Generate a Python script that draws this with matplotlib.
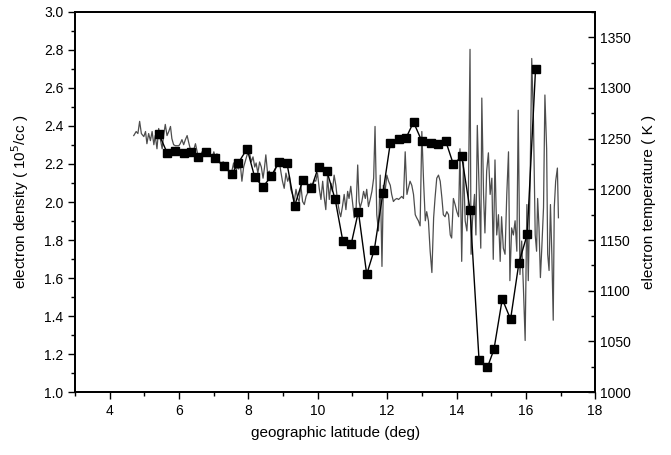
import matplotlib.pyplot as plt
from matplotlib.ticker import MultipleLocator

plt.rcParams['font.family'] = ['Liberation Sans', 'DejaVu Sans']

# electron density (squares), 10^5/cc
lat_ne = [5.41, 5.65, 5.89, 6.13, 6.35, 6.54, 6.78, 7.02, 7.28, 7.52, 7.71,
          7.96, 8.18, 8.42, 8.66, 8.87, 9.11, 9.33, 9.57, 9.81, 10.02, 10.26,
          10.50, 10.72, 10.96, 11.17, 11.41, 11.63, 11.88, 12.09, 12.33, 12.54,
          12.76, 13.00, 13.26, 13.48, 13.69, 13.91, 14.15, 14.39, 14.65, 14.89,
          15.08, 15.32, 15.56, 15.80, 16.04, 16.28]
ne = [2.36, 2.26, 2.27, 2.26, 2.265, 2.235, 2.265, 2.23, 2.19, 2.146, 2.207,
      2.28, 2.13, 2.08, 2.137, 2.209, 2.204, 1.98, 2.116, 2.072, 2.186, 2.163,
      2.014, 1.796, 1.777, 1.95, 1.62, 1.75, 2.05, 2.31, 2.33, 2.335,
      2.42, 2.32, 2.31, 2.305, 2.32, 2.198, 2.24, 1.96, 1.17, 1.13,
      1.225, 1.49, 1.384, 1.68, 1.83, 2.70]

# electron temperature (thin line), K
lat_te = [4.69, 4.76, 4.81, 4.86, 4.91, 4.98, 5.03, 5.07, 5.12, 5.17, 5.22, 5.27,
          5.31, 5.36, 5.41, 5.46, 5.51, 5.55, 5.60, 5.65, 5.70, 5.75, 5.79, 5.84,
          5.89, 5.99, 6.03, 6.08, 6.13, 6.18, 6.23, 6.27, 6.32, 6.37, 6.42, 6.47,
          6.52, 6.56, 6.61, 6.66, 6.76, 6.85, 6.95, 7.00, 7.04, 7.09, 7.14, 7.19,
          7.28, 7.33, 7.38, 7.43, 7.48, 7.52, 7.57, 7.62, 7.67, 7.72, 7.76, 7.81,
          7.86, 7.96, 8.03, 8.08, 8.13, 8.18, 8.22, 8.27, 8.32, 8.37, 8.42, 8.46,
          8.50, 8.55, 8.60, 8.65, 8.70, 8.74, 8.79, 8.84, 8.89, 8.94, 8.98, 9.03,
          9.08, 9.13, 9.18, 9.22, 9.27, 9.32, 9.37, 9.42, 9.46, 9.51, 9.56, 9.61,
          9.66, 9.70, 9.75, 9.80, 9.85, 9.90, 9.94, 9.99, 10.04, 10.09, 10.14,
          10.18, 10.23, 10.28, 10.33, 10.38, 10.42, 10.47, 10.52, 10.57, 10.62,
          10.66, 10.71, 10.76, 10.81, 10.86, 10.90, 10.95, 11.00, 11.05, 11.10,
          11.15, 11.19, 11.22, 11.27, 11.32, 11.37, 11.41, 11.46, 11.51, 11.56,
          11.61, 11.65, 11.70, 11.75, 11.80, 11.85, 11.89, 11.94, 11.99, 12.04,
          12.09, 12.13, 12.18, 12.23, 12.28, 12.33, 12.42, 12.47, 12.52, 12.57,
          12.61, 12.66, 12.71, 12.76, 12.81, 12.85, 12.90, 12.95, 13.00, 13.05,
          13.10, 13.14, 13.19, 13.24, 13.29, 13.34, 13.38, 13.43, 13.48, 13.53,
          13.58, 13.62, 13.67, 13.72, 13.77, 13.82, 13.86, 13.91, 13.96, 14.01,
          14.06, 14.10, 14.15, 14.20, 14.25, 14.30, 14.34, 14.39, 14.42, 14.46,
          14.52, 14.56, 14.60, 14.65, 14.70, 14.73, 14.78, 14.82, 14.87, 14.92,
          14.97, 15.02, 15.06, 15.11, 15.16, 15.21, 15.26, 15.30, 15.35, 15.40,
          15.45, 15.50, 15.54, 15.59, 15.64, 15.69, 15.74, 15.78, 15.83, 15.88,
          15.93, 15.98, 16.03, 16.07, 16.12, 16.17, 16.22, 16.27, 16.31, 16.34,
          16.38, 16.42, 16.46, 16.51, 16.55, 16.60, 16.63, 16.67, 16.71, 16.75,
          16.79, 16.82, 16.86, 16.91, 16.94]
te = [1253, 1257, 1255, 1267, 1255, 1252, 1257, 1245, 1255, 1248, 1257, 1244,
      1253, 1240, 1260, 1249, 1240, 1253, 1264, 1253, 1257, 1262, 1250, 1244,
      1243, 1243, 1245, 1249, 1244, 1249, 1253, 1247, 1240, 1236, 1239, 1245,
      1237, 1229, 1232, 1237, 1239, 1236, 1231, 1237, 1232, 1235, 1229, 1226,
      1227, 1221, 1226, 1218, 1213, 1218, 1226, 1214, 1222, 1220, 1226, 1208,
      1222, 1234, 1236, 1227, 1232, 1222, 1226, 1216, 1227, 1222, 1211, 1221,
      1234, 1216, 1218, 1211, 1214, 1216, 1221, 1224, 1227, 1216, 1208, 1201,
      1216, 1208, 1213, 1200, 1195, 1188, 1200, 1191, 1188, 1204, 1188, 1185,
      1193, 1196, 1199, 1206, 1203, 1209, 1208, 1216, 1201, 1190, 1208,
      1193, 1180, 1213, 1190, 1206, 1198, 1214, 1204, 1188, 1178,
      1173, 1183, 1195, 1180, 1198, 1191, 1203, 1187, 1172, 1178,
      1224, 1188, 1182, 1188, 1198, 1191, 1200, 1183, 1190, 1198,
      1211, 1262, 1175, 1159, 1214, 1124, 1204, 1198, 1214, 1208,
      1204, 1195, 1188, 1190, 1191, 1190, 1193, 1191, 1237, 1195,
      1201, 1208, 1204, 1195, 1175, 1172, 1169, 1164, 1257, 1208,
      1169, 1178, 1169, 1139, 1118, 1172, 1191, 1211, 1214, 1208,
      1191, 1175, 1173, 1178, 1175, 1155, 1152, 1191, 1185, 1178,
      1173, 1240, 1129, 1227, 1169, 1159, 1185, 1338, 1136, 1169,
      1195, 1155, 1263, 1201, 1142, 1290, 1195, 1157, 1218, 1236,
      1195, 1211, 1131, 1229, 1155, 1175, 1129, 1173, 1142, 1136,
      1195, 1237, 1110, 1162, 1155, 1169, 1139, 1278, 1116, 1149,
      1103, 1051, 1185, 1110, 1201, 1329, 1267, 1155, 1139, 1191,
      1162, 1113, 1142, 1182, 1293, 1240, 1136, 1120, 1185, 1136,
      1071, 1182, 1208, 1221, 1172]

fig, ax = plt.subplots(1, 1, figsize=(6.71, 4.55), dpi=100)
fig.subplots_adjust(left=0.112, right=0.887, bottom=0.138, top=0.974)

ax2 = ax.twinx()
ax2.plot(lat_te, te, color='0.3', linewidth=0.9, zorder=1)
ax2.set_ylim([1000, 1375])
ax2.yaxis.set_major_locator(MultipleLocator(50))
ax2.yaxis.set_minor_locator(MultipleLocator(25))
ax2.tick_params(axis='y', which='major', direction='in', length=5, width=1, labelsize=10)
ax2.tick_params(axis='y', which='minor', direction='in', length=3, width=1)
ax2.set_ylabel('electron temperature ( K )', fontsize=11, labelpad=8)

ax.set_zorder(ax2.get_zorder() + 1)
ax.patch.set_visible(False)
ax.plot(lat_ne, ne, color='black', linewidth=1.0, marker='s', markersize=6,
        markerfacecolor='black', markeredgecolor='black')

ax.set_xlim([3, 18])
ax.set_ylim([1.0, 3.0])
ax.xaxis.set_major_locator(MultipleLocator(2))
ax.xaxis.set_minor_locator(MultipleLocator(1))
ax.yaxis.set_major_locator(MultipleLocator(0.2))
ax.yaxis.set_minor_locator(MultipleLocator(0.1))
ax.set_xticks([4, 6, 8, 10, 12, 14, 16, 18])
ax.tick_params(which='major', direction='out', length=5, width=1, labelsize=10)
ax.tick_params(which='minor', direction='out', length=3, width=1)
ax.tick_params(axis='y', which='both', right=False)

for a in (ax, ax2):
    for s in a.spines.values():
        s.set_linewidth(1.3)

ax.set_xlabel('geographic latitude (deg)', fontsize=11, labelpad=6)
ax.set_ylabel('electron density ( 10$^5$/cc )', fontsize=11, labelpad=9)

plt.savefig('out.png', dpi=100)
plt.close()
